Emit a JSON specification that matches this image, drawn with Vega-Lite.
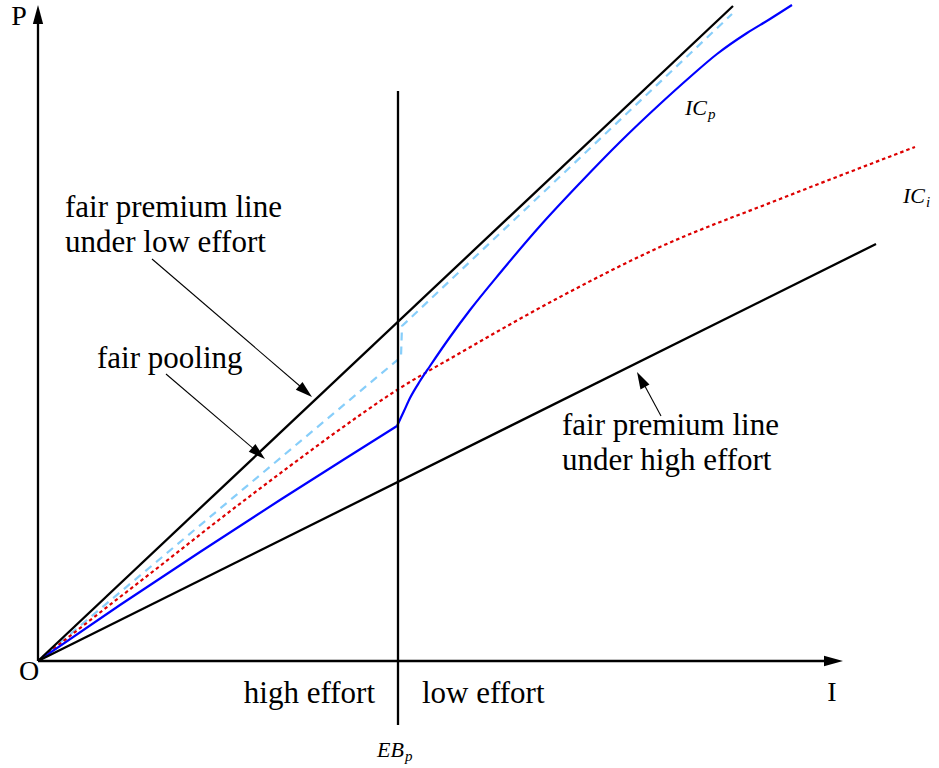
{
  "$schema": "https://vega.github.io/schema/vega-lite/v6.json",
  "width": 939,
  "height": 768,
  "padding": 0,
  "autosize": {"type": "none"},
  "background": "white",
  "config": {"view": {"stroke": null}},
  "datasets": {
    "curves": [
      {"s": "axisX", "i": 0, "x": 0, "y": 0},
      {"s": "axisX", "i": 1, "x": 792, "y": 0},
      {"s": "axisY", "i": 0, "x": 0, "y": 0},
      {"s": "axisY", "i": 1, "x": 0, "y": 642},
      {"s": "low", "i": 0, "x": 0, "y": 0},
      {"s": "low", "i": 1, "x": 695, "y": 655},
      {"s": "high", "i": 0, "x": 0, "y": 0},
      {"s": "high", "i": 1, "x": 838, "y": 417},
      {"s": "EB", "i": 0, "x": 360, "y": 570},
      {"s": "EB", "i": 1, "x": 360, "y": -64},
      {"s": "arr1", "i": 0, "x": 114, "y": 402},
      {"s": "arr1", "i": 1, "x": 270, "y": 268},
      {"s": "arr2", "i": 0, "x": 128, "y": 287},
      {"s": "arr2", "i": 1, "x": 224, "y": 205},
      {"s": "arr3", "i": 0, "x": 623, "y": 245},
      {"s": "arr3", "i": 1, "x": 602, "y": 284},
      {"s": "pool", "i": 0, "x": 0, "y": 0},
      {"s": "pool", "i": 1, "x": 363, "y": 304},
      {"s": "pool", "i": 2, "x": 364, "y": 335},
      {"s": "pool", "i": 3, "x": 694, "y": 647},
      {"s": "ICp1", "i": 0, "x": 0, "y": 0},
      {"s": "ICp1", "i": 1, "x": 82, "y": 56},
      {"s": "ICp1", "i": 2, "x": 162, "y": 109},
      {"s": "ICp1", "i": 3, "x": 242, "y": 161},
      {"s": "ICp1", "i": 4, "x": 305, "y": 201},
      {"s": "ICp1", "i": 5, "x": 359, "y": 235},
      {"s": "ICp2", "i": 5, "x": 359, "y": 235},
      {"s": "ICp2", "i": 6, "x": 366, "y": 250},
      {"s": "ICp2", "i": 7, "x": 372, "y": 263},
      {"s": "ICp2", "i": 8, "x": 382, "y": 280},
      {"s": "ICp2", "i": 9, "x": 392, "y": 295},
      {"s": "ICp2", "i": 10, "x": 412, "y": 324},
      {"s": "ICp2", "i": 11, "x": 432, "y": 351},
      {"s": "ICp2", "i": 12, "x": 462, "y": 388},
      {"s": "ICp2", "i": 13, "x": 502, "y": 435},
      {"s": "ICp2", "i": 14, "x": 542, "y": 478},
      {"s": "ICp2", "i": 15, "x": 582, "y": 519},
      {"s": "ICp2", "i": 16, "x": 622, "y": 557},
      {"s": "ICp2", "i": 17, "x": 652, "y": 584},
      {"s": "ICp2", "i": 18, "x": 679, "y": 607},
      {"s": "ICp2", "i": 19, "x": 709, "y": 628},
      {"s": "ICp2", "i": 20, "x": 732, "y": 642},
      {"s": "ICp2", "i": 21, "x": 754, "y": 656},
      {"s": "ICi", "i": 0, "x": 0, "y": 0},
      {"s": "ICi", "i": 1, "x": 62, "y": 48.5},
      {"s": "ICi", "i": 2, "x": 122, "y": 95},
      {"s": "ICi", "i": 3, "x": 182, "y": 142},
      {"s": "ICi", "i": 4, "x": 252, "y": 195},
      {"s": "ICi", "i": 5, "x": 294, "y": 226},
      {"s": "ICi", "i": 6, "x": 359, "y": 271},
      {"s": "ICi", "i": 7, "x": 422, "y": 308},
      {"s": "ICi", "i": 8, "x": 522, "y": 364},
      {"s": "ICi", "i": 9, "x": 622, "y": 414},
      {"s": "ICi", "i": 10, "x": 742, "y": 462},
      {"s": "ICi", "i": 11, "x": 877, "y": 514}
    ],
    "heads": [
      {"k": "axis", "x": 0, "y": 656, "dir": 0},
      {"k": "axis", "x": 805, "y": 0, "dir": 90},
      {"k": "note", "x": 274, "y": 264, "dir": 130.8},
      {"k": "note", "x": 227, "y": 202, "dir": 130.6},
      {"k": "note", "x": 599, "y": 289, "dir": 332}
    ],
    "texts": [
      {"k": "note", "x": 27, "y": 444, "t": "fair premium line"},
      {"k": "note", "x": 27, "y": 409, "t": "under low effort"},
      {"k": "note", "x": 59, "y": 293, "t": "fair pooling"},
      {"k": "note", "x": 524, "y": 226, "t": "fair premium line"},
      {"k": "note", "x": 524, "y": 191, "t": "under high effort"},
      {"k": "noteR", "x": 337, "y": -42, "t": "high effort"},
      {"k": "note", "x": 384, "y": -42, "t": "low effort"},
      {"k": "letter", "x": -19, "y": 636, "t": "P"},
      {"k": "letter", "x": -9, "y": -19, "t": "O"},
      {"k": "letter", "x": 794, "y": -40, "t": "I"},
      {"k": "math", "x": 339, "y": -96, "t": "EB"},
      {"k": "sub", "x": 367, "y": -100, "t": "p"},
      {"k": "math", "x": 647, "y": 546, "t": "IC"},
      {"k": "sub", "x": 670, "y": 542, "t": "p"},
      {"k": "math", "x": 865, "y": 458, "t": "IC"},
      {"k": "sub", "x": 888, "y": 454, "t": "i"}
    ]
  },
  "encoding": {
    "x": {"field": "x", "type": "quantitative", "scale": {"domain": [-38, 901], "nice": false, "zero": false}, "axis": null},
    "y": {"field": "y", "type": "quantitative", "scale": {"domain": [-107, 661], "nice": false, "zero": false}, "axis": null}
  },
  "layer": [
    {
      "data": {"name": "curves"},
      "transform": [{"filter": "datum.s === 'pool'"}],
      "mark": {"type": "line", "color": "#87cefa", "strokeWidth": 2.2, "strokeDash": [8, 6]},
      "encoding": {"order": {"field": "i", "type": "quantitative"}}
    },
    {
      "data": {"name": "curves"},
      "transform": [{"filter": "datum.s === 'ICi'"}],
      "mark": {"type": "line", "color": "#dd0000", "strokeWidth": 2.2, "strokeDash": [3.5, 3], "interpolate": "monotone"},
      "encoding": {"order": {"field": "i", "type": "quantitative"}}
    },
    {
      "data": {"name": "curves"},
      "transform": [{"filter": {"field": "s", "oneOf": ["ICp1", "ICp2"]}}],
      "mark": {"type": "line", "color": "#0000ff", "strokeWidth": 2.2, "interpolate": "monotone"},
      "encoding": {"detail": {"field": "s"}, "order": {"field": "i", "type": "quantitative"}}
    },
    {
      "data": {"name": "curves"},
      "transform": [{"filter": {"field": "s", "oneOf": ["axisX", "axisY", "low", "high", "EB"]}}],
      "mark": {"type": "line", "color": "black", "strokeWidth": 2.3},
      "encoding": {"detail": {"field": "s"}, "order": {"field": "i", "type": "quantitative"}}
    },
    {
      "data": {"name": "curves"},
      "transform": [{"filter": {"field": "s", "oneOf": ["arr1", "arr2", "arr3"]}}],
      "mark": {"type": "line", "color": "black", "strokeWidth": 1.1},
      "encoding": {"detail": {"field": "s"}, "order": {"field": "i", "type": "quantitative"}}
    },
    {
      "data": {"name": "heads"},
      "transform": [{"filter": "datum.k === 'axis'"}],
      "mark": {"type": "point", "shape": "M0,0 L-0.27,1 L0.27,1 Z", "filled": true, "color": "black", "opacity": 1, "strokeWidth": 0, "size": 1444},
      "encoding": {"angle": {"field": "dir", "type": "quantitative", "scale": null}}
    },
    {
      "data": {"name": "heads"},
      "transform": [{"filter": "datum.k === 'note'"}],
      "mark": {"type": "point", "shape": "M0,0 L-0.3,1 L0.3,1 Z", "filled": true, "color": "black", "opacity": 1, "strokeWidth": 0, "size": 1156},
      "encoding": {"angle": {"field": "dir", "type": "quantitative", "scale": null}}
    },
    {
      "data": {"name": "texts"},
      "transform": [{"filter": "datum.k === 'note'"}],
      "mark": {"type": "text", "font": "Liberation Serif", "fontSize": 31, "align": "left", "baseline": "alphabetic", "color": "black"},
      "encoding": {"text": {"field": "t"}}
    },
    {
      "data": {"name": "texts"},
      "transform": [{"filter": "datum.k === 'noteR'"}],
      "mark": {"type": "text", "font": "Liberation Serif", "fontSize": 31, "align": "right", "baseline": "alphabetic", "color": "black"},
      "encoding": {"text": {"field": "t"}}
    },
    {
      "data": {"name": "texts"},
      "transform": [{"filter": "datum.k === 'letter'"}],
      "mark": {"type": "text", "font": "Liberation Serif", "fontSize": 28, "align": "center", "baseline": "alphabetic", "color": "black"},
      "encoding": {"text": {"field": "t"}}
    },
    {
      "data": {"name": "texts"},
      "transform": [{"filter": "datum.k === 'math'"}],
      "mark": {"type": "text", "font": "Liberation Serif", "fontSize": 22, "fontStyle": "italic", "align": "left", "baseline": "alphabetic", "color": "black"},
      "encoding": {"text": {"field": "t"}}
    },
    {
      "data": {"name": "texts"},
      "transform": [{"filter": "datum.k === 'sub'"}],
      "mark": {"type": "text", "font": "Liberation Serif", "fontSize": 15, "fontStyle": "italic", "align": "left", "baseline": "alphabetic", "color": "black"},
      "encoding": {"text": {"field": "t"}}
    }
  ]
}
